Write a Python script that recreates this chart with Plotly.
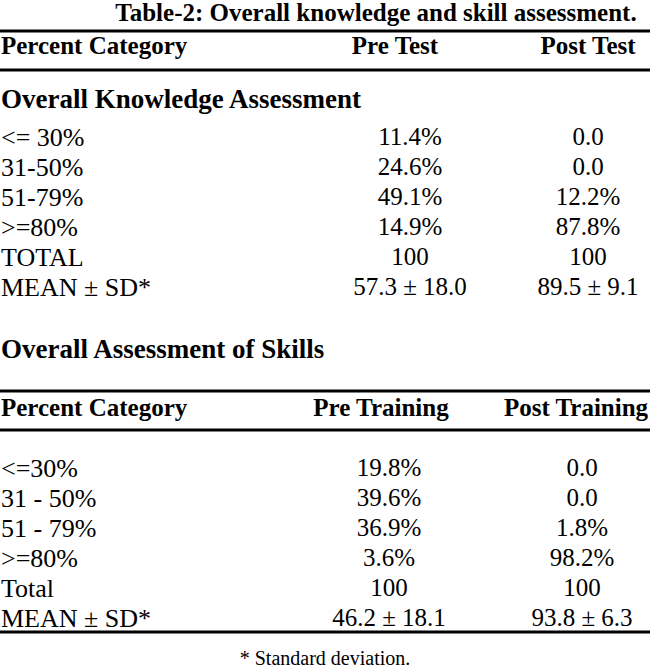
import plotly.graph_objects as go

# 表格数据
title = "Table-2: Overall knowledge and skill assessment."
footnote = "* Standard deviation."

knowledge_header = ["Percent Category", "Pre Test", "Post Test"]
knowledge_section = "Overall Knowledge Assessment"
knowledge_rows = ["<= 30%", "31-50%", "51-79%", ">=80%", "TOTAL", "MEAN ± SD*"]
pre_test = ["11.4%", "24.6%", "49.1%", "14.9%", "100", "57.3 ± 18.0"]
post_test = ["0.0", "0.0", "12.2%", "87.8%", "100", "89.5 ± 9.1"]

skills_section = "Overall Assessment of Skills"
skills_header = ["Percent Category", "Pre Training", "Post Training"]
skills_rows = ["<=30%", "31 - 50%", "51 - 79%", ">=80%", "Total", "MEAN ± SD*"]
pre_training = ["19.8%", "39.6%", "36.9%", "3.6%", "100", "46.2 ± 18.1"]
post_training = ["0.0", "0.0", "1.8%", "98.2%", "100", "93.8 ± 6.3"]

W, H = 650, 672
FONT = "Liberation Serif"
ROW = 30
DY = 2    # 文字垂直偏移修正
LX = 1    # 左列文字起点


def esc(s):
    return s.replace("<", "&lt;").replace(">", "&gt;")


def bold(s):
    return "<b>" + esc(s) + "</b>"


fig = go.Figure()


def add_text(xs, ys, texts, pos, size=25):
    fig.add_trace(go.Scatter(
        x=xs, y=[y + DY for y in ys], text=texts, mode="text",
        textposition=pos, cliponaxis=False,
        textfont=dict(family=FONT, size=size, color="black"),
        hoverinfo="skip", showlegend=False,
    ))


# 标题
add_text([376], [13], [bold(title)], "middle center")

# 第一部分：知识评估
add_text([LX], [46], [bold(knowledge_header[0])], "middle right")
add_text([395, 588], [46, 46], [bold(t) for t in knowledge_header[1:]], "middle center")
add_text([LX], [99], [bold(knowledge_section)], "middle right", size=27)
ys1 = [137 + i * ROW for i in range(len(knowledge_rows))]
add_text([LX] * len(ys1), ys1, [esc(t) for t in knowledge_rows], "middle right", size=26)
add_text([410] * len(ys1), ys1, [esc(t) for t in pre_test], "middle center")
add_text([588] * len(ys1), ys1, [esc(t) for t in post_test], "middle center")

# 第二部分：技能评估
add_text([LX], [349], [bold(skills_section)], "middle right", size=27)
add_text([LX], [408], [bold(skills_header[0])], "middle right")
add_text([381, 576], [408, 408], [bold(t) for t in skills_header[1:]], "middle center")
ys2 = [468 + i * ROW for i in range(len(skills_rows))]
add_text([LX] * len(ys2), ys2, [esc(t) for t in skills_rows], "middle right", size=26)
add_text([389] * len(ys2), ys2, [esc(t) for t in pre_training], "middle center")
add_text([582] * len(ys2), ys2, [esc(t) for t in post_training], "middle center")

# 脚注
add_text([325], [658], [esc(footnote)], "middle center", size=20)

# 横线
for y in [31, 70, 391, 430, 632]:
    fig.add_shape(type="line", x0=0, x1=W, y0=y, y1=y,
                  xref="x", yref="y", line=dict(color="black", width=3))

fig.update_layout(
    width=W, height=H,
    margin=dict(l=0, r=0, t=0, b=0),
    paper_bgcolor="white", plot_bgcolor="white",
    xaxis=dict(range=[0, W], visible=False, fixedrange=True),
    yaxis=dict(range=[H, 0], visible=False, fixedrange=True),
)

# 去掉页面默认的 body 边距，让图表贴齐窗口
fig.write_html("out.html", config={"displayModeBar": False},
               post_script="document.body.style.margin='0';")
